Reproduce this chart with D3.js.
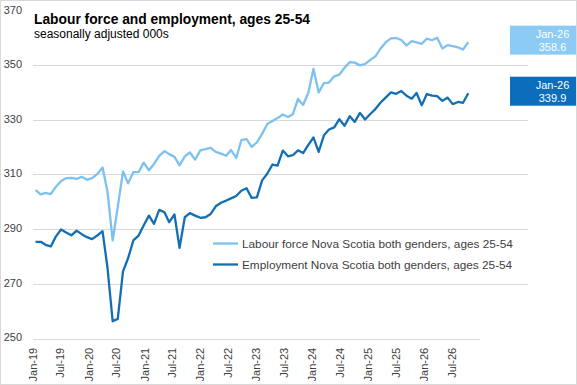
<!DOCTYPE html>
<html>
<head>
<meta charset="utf-8">
<script src="https://cdn.jsdelivr.net/npm/d3@7/dist/d3.min.js"></script>
<style>
  html, body { margin: 0; padding: 0; background: #fff; }
  svg { display: block; }
  .axis text { font-family: "Liberation Sans", Arial, sans-serif; font-size: 11px; fill: #404040; }
  .legend text { font-family: "Liberation Sans", Arial, sans-serif; font-size: 11.8px; fill: #404040; }
</style>
</head>
<body>
<svg id="chart" width="577" height="385"></svg>
<script>
// Labour force and employment, Nova Scotia, ages 25-54 (000s, seasonally adjusted)
// monthly, Jan-19 .. Jan-26
const labourForce = [
  304.4, 302.9, 303.4, 303.0, 305.6, 307.8, 308.8, 308.9, 308.5, 309.3, 308.2, 308.8,
  310.3, 312.7, 304.0, 286.0, 298.3, 311.3, 306.9, 311.0, 311.0, 314.5, 311.7, 314.0,
  317.0, 318.7, 317.6, 316.6, 313.5, 316.8, 318.2, 315.6, 319.0, 319.4, 319.9, 318.4,
  317.8, 317.0, 319.1, 316.2, 322.7, 323.1, 320.3, 321.9, 325.0, 328.6, 329.7, 330.8,
  332.1, 331.2, 332.2, 337.8, 335.6, 340.1, 348.8, 340.2, 343.6, 343.8, 346.1, 346.7,
  349.2, 351.3, 351.1, 350.1, 350.6, 352.1, 353.4, 356.3, 358.6, 360.0, 360.1, 359.4,
  357.4, 359.0, 358.5, 358.0, 359.9, 359.3, 360.2, 356.3, 357.5, 357.1, 356.7, 355.9,
  358.6
];
const employment = [
  285.5, 285.5, 284.4, 283.8, 287.4, 290.0, 288.9, 287.9, 289.6, 288.3, 287.2, 286.5,
  287.8, 289.4, 276.2, 256.4, 257.3, 274.7, 279.5, 286.0, 287.8, 291.5, 295.1, 292.1,
  297.2, 296.3, 292.7, 295.5, 283.3, 294.5, 296.0, 295.1, 294.3, 294.5, 295.7, 298.5,
  299.8, 300.6, 301.4, 302.3, 304.2, 305.1, 301.6, 301.8, 308.0, 310.4, 313.8, 313.4,
  318.9, 316.8, 317.2, 319.0, 318.0, 321.0, 323.7, 318.4, 324.5, 326.6, 327.4, 330.4,
  328.0, 331.5, 329.4, 332.7, 330.3, 332.3, 334.1, 336.5, 338.4, 340.2, 339.7, 340.7,
  339.0, 337.9, 340.0, 335.5, 339.6, 339.0, 338.8, 337.1, 338.3, 335.9, 336.7, 336.4,
  339.9
];
const firstMonth = new Date(2019, 0, 1);
const lastMonth = new Date(2026, 0, 1);
const axisEnd = new Date(2027, 0, 1);

const yTicks = [250, 270, 290, 310, 330, 350, 370];
const gridValues = [270, 290, 310, 330, 350];
const xTickLabels = [
  "Jan-19", "Jul-19", "Jan-20", "Jul-20", "Jan-21", "Jul-21", "Jan-22", "Jul-22",
  "Jan-23", "Jul-23", "Jan-24", "Jul-24", "Jan-25", "Jul-25", "Jan-26", "Jul-26"
];
const seriesNames = [
  "Labour force Nova Scotia both genders, ages 25-54",
  "Employment Nova Scotia both genders, ages 25-54"
];
const title = "Labour force and employment, ages 25-54";
const subtitle = "seasonally adjusted 000s";
const endLabel = "Jan-26";

const colors = { lf: "#7dc1ee", emp: "#136fb4", lfBox: "#8ccbf3", empBox: "#0b6dbb", grid: "#d9d9d9" };

const months = d3.timeMonth.range(firstMonth, d3.timeMonth.offset(lastMonth, 1));
const lfData = months.map((d, i) => ({ date: d, value: labourForce[i] }));
const empData = months.map((d, i) => ({ date: d, value: employment[i] }));

const svg = d3.select("#chart");

// scales
const y = d3.scaleLinear().domain([250, 370]).range([338.8, 11]);
const xAxisScale = d3.scaleTime().domain([firstMonth, axisEnd]).range([32.3, 479.7]);
const xLine = d3.scaleTime().domain([firstMonth, lastMonth]).range([35.5, 468.3]);

// gridlines
svg.append("g")
  .selectAll("line")
  .data(gridValues)
  .join("line")
  .attr("x1", 33).attr("x2", 528)
  .attr("y1", d => y(d)).attr("y2", d => y(d))
  .attr("stroke", colors.grid)
  .attr("stroke-width", 1)
  .attr("shape-rendering", "crispEdges");

// y axis labels
const yAxis = svg.append("g")
  .attr("class", "axis")
  .attr("transform", "translate(22,-1.5)")
  .call(d3.axisLeft(y).tickValues(yTicks).tickSize(0).tickPadding(0).tickFormat(d3.format("d")));
yAxis.select(".domain").remove();

// x axis
const parseTick = d3.timeParse("%b-%y");
const xAxis = svg.append("g")
  .attr("class", "axis")
  .attr("transform", `translate(0,${y(250)})`)
  .call(d3.axisBottom(xAxisScale)
    .tickValues(xTickLabels.map(parseTick))
    .tickFormat(d3.timeFormat("%b-%y"))
    .tickSize(0)
    .tickSizeOuter(0));
xAxis.select(".domain")
  .attr("stroke", colors.grid)
  .attr("shape-rendering", "crispEdges");
xAxis.selectAll(".tick text")
  .attr("transform", "rotate(-90)")
  .attr("x", -9)
  .attr("y", 0)
  .attr("dy", "0.35em")
  .style("text-anchor", "end");

// lines
const line = d3.line()
  .x(d => xLine(d.date))
  .y(d => y(d.value));

svg.append("path")
  .datum(lfData)
  .attr("fill", "none")
  .attr("stroke", colors.lf)
  .attr("stroke-width", 2.3)
  .attr("stroke-linejoin", "round")
  .attr("d", line);

svg.append("path")
  .datum(empData)
  .attr("fill", "none")
  .attr("stroke", colors.emp)
  .attr("stroke-width", 2.3)
  .attr("stroke-linejoin", "round")
  .attr("d", line);

// title
svg.append("text")
  .attr("x", 34).attr("y", 24)
  .attr("font-family", "'Liberation Sans', Arial, sans-serif")
  .attr("font-size", 13.8)
  .attr("font-weight", "bold")
  .attr("fill", "#000")
  .text(title);

svg.append("text")
  .attr("x", 34).attr("y", 38.4)
  .attr("font-family", "'Liberation Sans', Arial, sans-serif")
  .attr("font-size", 12)
  .attr("fill", "#000")
  .text(subtitle);

// legend
const legend = svg.append("g").attr("class", "legend");
const legendItems = [
  { name: seriesNames[0], color: colors.lf, y: 243.5 },
  { name: seriesNames[1], color: colors.emp, y: 264.5 }
];
legendItems.forEach(item => {
  legend.append("line")
    .attr("x1", 213).attr("x2", 238)
    .attr("y1", item.y).attr("y2", item.y)
    .attr("stroke", item.color)
    .attr("stroke-width", 2.3);
  legend.append("text")
    .attr("x", 242).attr("y", item.y)
    .attr("dy", "0.35em")
    .text(item.name);
});

// end-of-series value boxes
const endBoxes = [
  { value: labourForce[labourForce.length - 1], fill: colors.lfBox },
  { value: employment[employment.length - 1], fill: colors.empBox }
];
endBoxes.forEach(b => {
  const cy = y(b.value) - 2;
  const g = svg.append("g").attr("transform", `translate(510,${cy - 14.5})`);
  g.append("rect")
    .attr("width", 85).attr("height", 29)
    .attr("fill", b.fill);
  g.append("text")
    .attr("x", 42.5).attr("y", 12.5)
    .attr("text-anchor", "middle")
    .attr("font-family", "'Liberation Sans', Arial, sans-serif")
    .attr("font-size", 11)
    .attr("fill", "#fff")
    .text(endLabel);
  g.append("text")
    .attr("x", 42.5).attr("y", 25.5)
    .attr("text-anchor", "middle")
    .attr("font-family", "'Liberation Sans', Arial, sans-serif")
    .attr("font-size", 11)
    .attr("fill", "#fff")
    .text(b.value.toFixed(1));
});

// chart border
svg.append("rect")
  .attr("x", 0.5).attr("y", 0.5)
  .attr("width", 576).attr("height", 384)
  .attr("fill", "none")
  .attr("stroke", colors.grid);
</script>
</body>
</html>
